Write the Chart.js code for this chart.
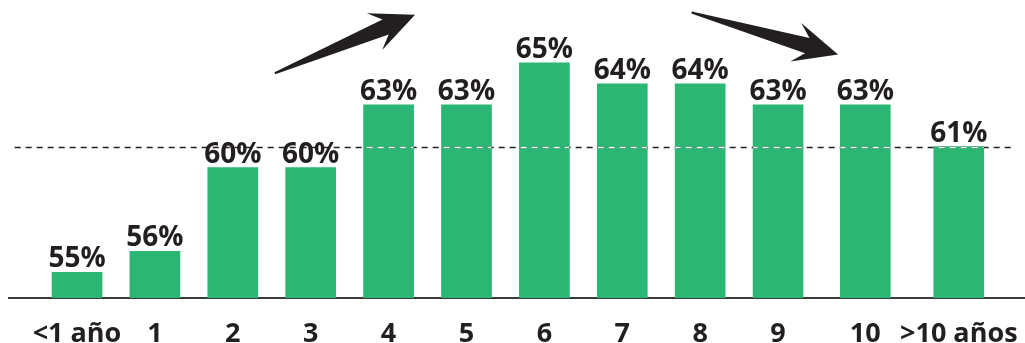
<!DOCTYPE html>
<html>
<head>
<meta charset="utf-8">
<script src="https://cdn.jsdelivr.net/npm/chart.js@4"></script>
<style>
  html, body { margin: 0; padding: 0; background: #fff; }
  canvas { display: block; }
</style>
</head>
<body>
<canvas id="antiguedadChart" width="1025" height="343"></canvas>
<script>
// Porcentaje por años de antigüedad
const categories = ['<1 año', '1', '2', '3', '4', '5', '6', '7', '8', '9', '10', '>10 años'];
const percentages = [55, 56, 60, 60, 63, 63, 65, 64, 64, 63, 63, 61];
const averageLine = 61;

// posición de cada barra sobre el eje x (las dos últimas algo más separadas)
const slots = [0, 1, 2, 3, 4, 5, 6, 7, 8, 9, 10.12, 11.32];

// flechas de tendencia, en unidades del gráfico (x = posición, y = %)
const trendArrows = [
    { from: [2.54, 64.5], to: [4.34, 67.3] },
    { from: [7.89, 67.4], to: [9.77, 65.4] }
];

const GREEN = '#2bb673';
const INK = '#231f20';
const FONT = "'Open Sans', 'Noto Sans', sans-serif";

// línea discontinua de referencia: oscura fuera de las barras, blanca encima
const averagePlugin = {
    id: 'averageLine',
    afterDatasetsDraw(chart) {
        const { ctx, scales } = chart;
        const y = Math.round(scales.y.getPixelForValue(averageLine)) + 0.5;
        const x0 = scales.x.getPixelForValue(-0.8);
        const x1 = scales.x.getPixelForValue(12.0);

        ctx.save();
        ctx.lineWidth = 1.5;
        ctx.setLineDash([6, 5]);
        ctx.strokeStyle = INK;
        ctx.beginPath();
        ctx.moveTo(x0, y);
        ctx.lineTo(x1, y);
        ctx.stroke();

        // sobre las barras los trazos van en blanco
        ctx.beginPath();
        chart.getDatasetMeta(0).data.forEach(bar => {
            const p = bar.getProps(['x', 'y', 'base', 'width'], true);
            ctx.rect(p.x - p.width / 2, p.y, p.width, p.base - p.y);
        });
        ctx.clip();
        ctx.strokeStyle = '#ffffff';
        ctx.beginPath();
        ctx.moveTo(x0, y);
        ctx.lineTo(x1, y);
        ctx.stroke();
        ctx.restore();
    }
};

// etiqueta con el porcentaje encima de cada barra
const valueLabels = {
    id: 'valueLabels',
    afterDatasetsDraw(chart) {
        const { ctx } = chart;
        ctx.save();
        ctx.font = 'bold 28px ' + FONT;
        ctx.fillStyle = INK;
        ctx.textAlign = 'center';
        ctx.textBaseline = 'alphabetic';
        chart.getDatasetMeta(0).data.forEach((bar, i) => {
            ctx.fillText(percentages[i] + '%', bar.x, bar.y - 5);
        });
        ctx.restore();
    }
};

// flechas negras con el cuerpo afilado hacia la cola
const arrowsPlugin = {
    id: 'trendArrows',
    afterDraw(chart) {
        const { ctx, scales } = chart;
        ctx.save();
        ctx.fillStyle = INK;
        trendArrows.forEach(a => {
            const tx = scales.x.getPixelForValue(a.from[0]);
            const ty = scales.y.getPixelForValue(a.from[1]);
            const hx = scales.x.getPixelForValue(a.to[0]);
            const hy = scales.y.getPixelForValue(a.to[1]);
            const len = Math.hypot(hx - tx, hy - ty);
            const headLen = 40, headHalf = 20, neck = 8, tail = 1;

            ctx.save();
            ctx.translate(hx, hy);
            ctx.rotate(Math.atan2(hy - ty, hx - tx));
            ctx.beginPath();
            ctx.moveTo(0, 0);
            ctx.lineTo(-headLen - 4, -headHalf);
            ctx.lineTo(-headLen + 8, -neck);
            ctx.lineTo(-len, -tail);
            ctx.lineTo(-len, tail);
            ctx.lineTo(-headLen + 8, neck);
            ctx.lineTo(-headLen - 4, headHalf);
            ctx.closePath();
            ctx.fill();
            ctx.restore();
        });
        ctx.restore();
    }
};

new Chart(document.getElementById('antiguedadChart'), {
    type: 'bar',
    data: {
        datasets: [{
            data: percentages.map((v, i) => ({ x: slots[i], y: v })),
            backgroundColor: GREEN,
            borderWidth: 0,
            barThickness: 50
        }]
    },
    options: {
        responsive: false,
        animation: false,
        devicePixelRatio: 1,
        layout: { padding: { left: 9, right: 0, top: 0, bottom: 0 } },
        plugins: {
            legend: { display: false },
            tooltip: { enabled: false }
        },
        scales: {
            x: {
                type: 'linear',
                offset: false,
                min: -0.873,
                max: 12.17,
                grid: { display: false, drawTicks: false },
                border: { display: true, color: '#3a3a3a', width: 2 },
                afterBuildTicks: scale => {
                    scale.ticks = slots.map(v => ({ value: v }));
                },
                afterFit: scale => {
                    // el eje ocupa todo el ancho; las etiquetas caben sin margen extra
                    scale.height = 45;
                    scale.paddingLeft = 0;
                    scale.paddingRight = 0;
                },
                ticks: {
                    autoSkip: false,
                    maxRotation: 0,
                    padding: 20,
                    color: INK,
                    font: { family: FONT, size: 27, weight: 'bold' },
                    callback: (value, index) => categories[index]
                }
            },
            y: {
                display: false,
                min: 53.77,
                max: 68
            }
        }
    },
    plugins: [averagePlugin, valueLabels, arrowsPlugin]
});
</script>
</body>
</html>
